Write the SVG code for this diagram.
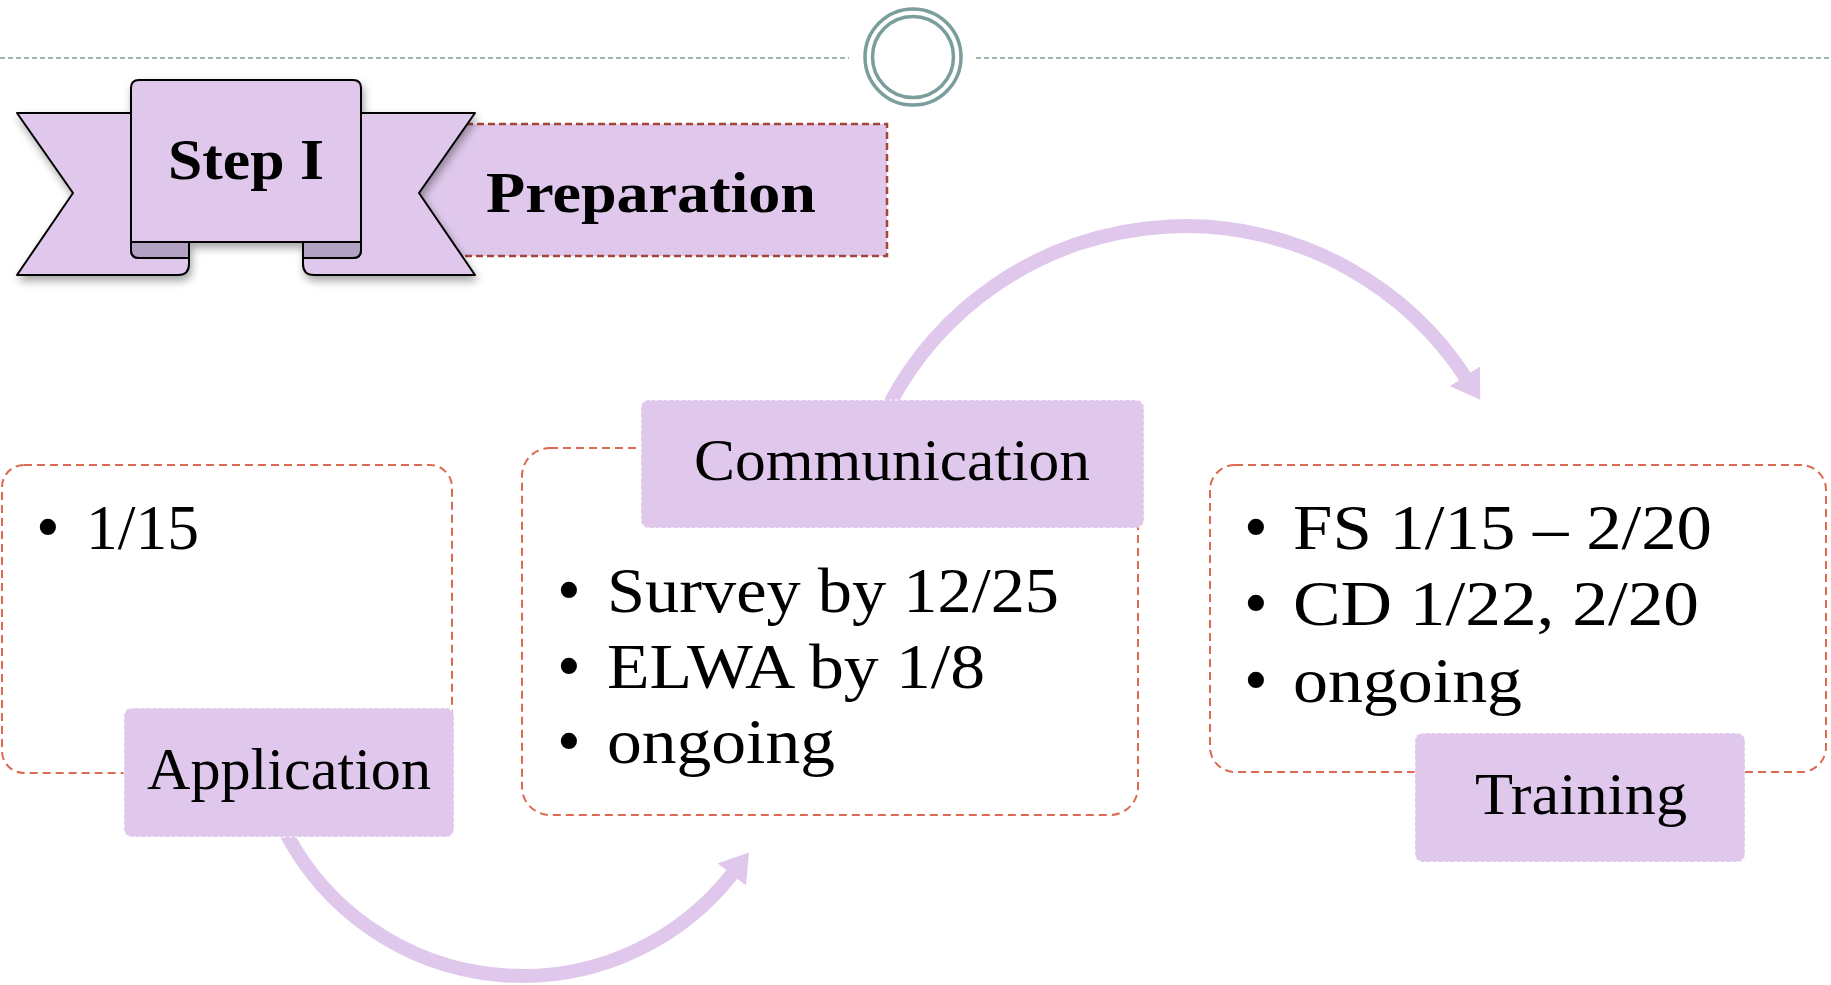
<svg xmlns="http://www.w3.org/2000/svg" width="1831" height="985" viewBox="0 0 1831 985">
<defs>
<style>
.rib{fill:#dfc8ec;stroke:#000;stroke-width:2;stroke-linejoin:round}
.dk{fill:#b3a2c2;stroke:#000;stroke-width:2;stroke-linejoin:round}
.box{fill:none;stroke:#dc6a52;stroke-width:2;stroke-dasharray:8 5}
.lbl{fill:#dfc8ec;stroke:#ffffff;stroke-width:1.5;stroke-dasharray:3 3;stroke-opacity:0.7}
.t{font-family:"Liberation Serif",serif;fill:#000}
.lt{font-size:60px}
.bt{font-size:64px}
.bl{font-size:68px;text-anchor:middle}
.hd{font-weight:bold}
.arr{fill:none;stroke:#dfc8ec;stroke-width:14}
.ring{fill:none;stroke:#7a9e9b;stroke-width:3.5}
</style>
<filter id="sh" x="-10%" y="-10%" width="130%" height="140%">
<feDropShadow dx="2" dy="5" stdDeviation="4" flood-color="#000" flood-opacity="0.35"/>
</filter>
<marker id="ah" markerUnits="userSpaceOnUse" viewBox="0 0 28 36" refX="2" refY="18" markerWidth="28" markerHeight="36" orient="auto">
<path d="M0 0 L28 18 L0 36 Z" fill="#dfc8ec"/>
</marker>
</defs>

<g id="header">
<line x1="0" y1="58" x2="849" y2="58" stroke="#7c9e9b" stroke-width="1.5" stroke-dasharray="5 3"/>
<line x1="976" y1="58" x2="1831" y2="58" stroke="#7c9e9b" stroke-width="1.5" stroke-dasharray="5 3"/>
<circle class="ring" cx="913" cy="57" r="48"/>
<circle class="ring" cx="913" cy="57" r="40.5"/>
</g>

<g id="preparation">
<rect x="400" y="124" width="487" height="132" fill="#dfc8ec" stroke="#a3453a" stroke-width="2.5" stroke-dasharray="7 4"/>
<text class="t hd" x="486" y="212" font-size="57" textLength="330" lengthAdjust="spacingAndGlyphs">Preparation</text>
</g>

<g id="step-ribbon" filter="url(#sh)">
<path class="rib" d="M17 113 H140 V242 H189 V264 Q189 275 178 275 H17 L73 193 Z"/>
<path class="rib" d="M475 113 H352 V242 H303 V264 Q303 275 314 275 H475 L419 193 Z"/>
<path class="rib" d="M131 250 V88 Q131 80 139 80 H353 Q361 80 361 88 V250 Q361 258 353 258 H303 V242 H189 V258 H139 Q131 258 131 250 Z"/>
<path class="dk" d="M189 242 H131 V250 Q131 258 139 258 H189 Z"/>
<path class="dk" d="M303 242 H361 V250 Q361 258 353 258 H303 Z"/>
</g>
<g id="step-label">
<text class="t hd" x="168" y="179" font-size="57" textLength="156" lengthAdjust="spacingAndGlyphs">Step I</text>
</g>

<g id="connectors">
<path class="arr" d="M287 835 A267 267 0 0 0 733 873" marker-end="url(#ah)"/>
<path class="arr" d="M889 405 A335 335 0 0 1 1466 378" marker-end="url(#ah)"/>
</g>

<g id="application">
<rect class="box" x="2" y="465" width="450" height="308" rx="22"/>
<text class="t bl" x="48" y="549">•</text>
<text class="t bt" x="86" y="549" textLength="113" lengthAdjust="spacingAndGlyphs">1/15</text>
<rect class="lbl" x="124" y="708" width="330" height="129" rx="8"/>
<text class="t lt" x="147" y="789" textLength="284" lengthAdjust="spacingAndGlyphs">Application</text>
</g>

<g id="communication">
<rect class="box" x="522" y="448" width="616" height="367" rx="28"/>
<rect class="lbl" x="641" y="400" width="503" height="128" rx="8"/>
<text class="t lt" x="694" y="480" textLength="396" lengthAdjust="spacingAndGlyphs">Communication</text>
<text class="t bl" x="569" y="612">•</text>
<text class="t bt" x="607" y="612" textLength="452" lengthAdjust="spacingAndGlyphs">Survey by 12/25</text>
<text class="t bl" x="569" y="688">•</text>
<text class="t bt" x="607" y="688" textLength="378" lengthAdjust="spacingAndGlyphs">ELWA by 1/8</text>
<text class="t bl" x="569" y="763">•</text>
<text class="t bt" x="607" y="763" textLength="228" lengthAdjust="spacingAndGlyphs">ongoing</text>
</g>

<g id="training">
<rect class="box" x="1210" y="465" width="616" height="307" rx="25"/>
<text class="t bl" x="1256" y="549">•</text>
<text class="t bt" x="1293" y="549" textLength="419" lengthAdjust="spacingAndGlyphs">FS 1/15 – 2/20</text>
<text class="t bl" x="1256" y="625">•</text>
<text class="t bt" x="1293" y="625" textLength="406" lengthAdjust="spacingAndGlyphs">CD 1/22, 2/20</text>
<text class="t bl" x="1256" y="702">•</text>
<text class="t bt" x="1293" y="702" textLength="229" lengthAdjust="spacingAndGlyphs">ongoing</text>
<rect class="lbl" x="1415" y="733" width="330" height="129" rx="8"/>
<text class="t lt" x="1475" y="814" textLength="212" lengthAdjust="spacingAndGlyphs">Training</text>
</g>
</svg>
